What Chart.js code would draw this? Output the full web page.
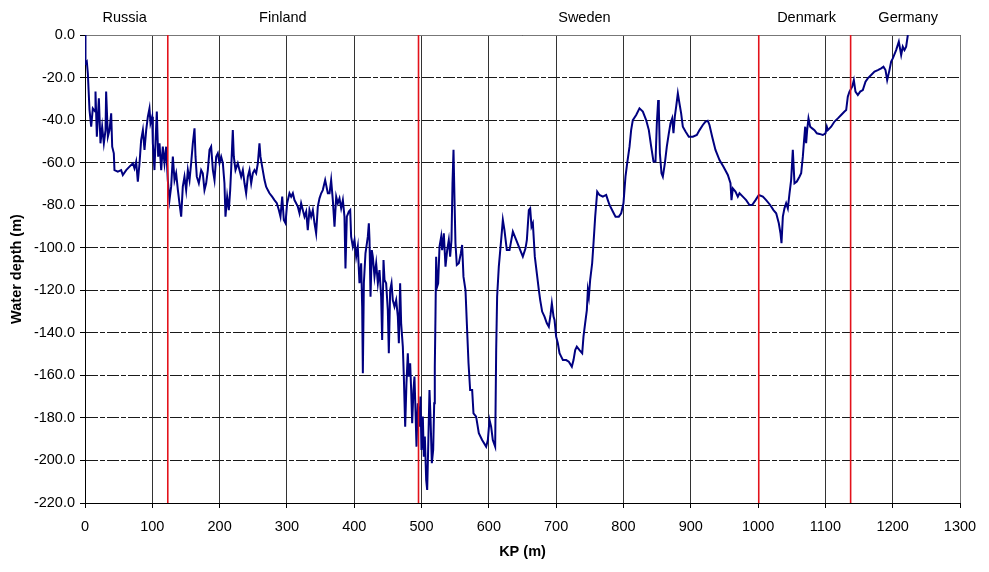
<!DOCTYPE html>
<html lang="en">
<head>
  <meta charset="UTF-8">
  <title>Water depth along the route</title>
  <script src="https://cdn.jsdelivr.net/npm/chart.js"></script>
  <style>
    body {
      margin: 0;
      background: #fff;
    }
    .wrap {
      width: 989px;
      height: 572px;
    }
  </style>
</head>
<body>
  <div class="wrap">
    <canvas id="depthChart"></canvas>
  </div>

  <script>
    // KP (m) and water depth (m)
    const kp = [
      0, 0.7, 2.7, 4.2, 6.7, 9.2, 11.6, 15.1, 15.6, 17.6,
      20.6, 23, 25.5, 28, 30.5, 31.4, 34, 36.4, 38.9, 40.4,
      42.8, 43.8, 48.8, 53.7, 56.2, 61.2, 66.1, 71.1, 73.5, 76,
      78.5, 81, 83.4, 86, 88.4, 90.9, 93.4, 95.8, 97.3, 99.8,
      100.8, 103.2, 104.7, 106.7, 108.7, 110.7, 113.2, 115.6, 118.1, 120.6,
      123, 125.5, 128, 130.5, 133, 135.4, 138, 140.4, 142.9, 145.3,
      147.8, 150.3, 152.8, 155.3, 157.7, 160.2, 162.7, 164.2, 166.1, 169.1,
      172.6, 175, 177.5, 180, 182.5, 185, 187.4, 190, 192.4, 194.9,
      197.3, 199.8, 202.3, 204.8, 207.2, 208.7, 211.2, 213.7, 215.7, 217.1,
      219.6, 221.1, 223.6, 227, 229.5, 232, 234.5, 237, 239.4, 241.9,
      244.4, 246.9, 249.3, 251.8, 254.3, 256.8, 259.2, 260.7, 263.2, 266.7,
      269.1, 271.6, 274.1, 278, 281.5, 285, 288, 290.4, 293, 295.4,
      297.9, 300.3, 303.8, 306.3, 308.8, 311.2, 313.7, 316.2, 318.7, 321.1,
      323.6, 326.1, 328.6, 331, 333.5, 336, 338.5, 341, 343.4, 345.9,
      348.4, 350.9, 353.3, 356.8, 360.8,
      363.3, 365.7, 368.2, 370.7, 373.2, 375.6, 378.1, 380.6, 383.1, 385.5,
      387, 389, 392, 394, 395.4, 397.9, 400.4, 402.9, 405.3, 407.8,
      410.3, 411.8, 412.8, 414.3, 416.7, 420.2, 421.7, 422.7, 424.2, 426.1,
      427.6, 430.1, 432.6, 435.1, 437.5, 440, 441.5, 443.5, 445, 447.4,
      449.9, 451.4, 453.4, 455.4, 457.3, 459.8, 462.3, 464.8, 466.3, 468.2,
      469.7, 472.2, 473.7, 475.7, 477.6, 479.6, 481.1, 483.1, 484.6, 486.1,
      488, 489.5, 491, 492.5, 494.5, 497, 498.4, 499.9, 501.9, 503.4,
      504.9, 506.9, 508.4, 509.8, 511.8, 513.3, 515.3, 517.3, 518.8, 519.7,
      520.7, 521.7, 523.2, 524.7, 526.7, 529.2, 530.6, 533.1, 535.6, 538.1,
      540.5, 542.5, 544.5, 546, 547.5, 549, 550.4, 552.4, 555.4, 558.4,
      560.3, 562.3, 565.3, 567.3, 569.8, 572.2, 575.2, 577.2, 581.1, 585.1,
      590, 596, 598.5, 601, 603.4, 605.9, 609.4, 610.9, 612.3, 614.8,
      618.3, 620.8, 623.2,
      626.7, 630.7, 635.7, 640.6, 645.6, 650.5, 654.5, 656.5, 659.4, 661.4,
      663.4, 665.4, 668.3, 671.3, 674.3, 676.3, 679.2, 682.7, 686.2, 689.1,
      691.6, 693.6, 696.1, 697.6, 700, 702.5, 705, 707.5, 710, 714.9,
      718.8, 723.3, 725.8, 728.3, 730.7, 734.7, 738.7, 740.6, 743.1, 745.6,
      747.1, 748.6, 750.5, 753.5, 755.5, 758, 761,
      764.4, 769.4, 774.3, 776.8, 779.3, 784.2, 788.2, 793.1, 796.6, 800,
      803, 805.5, 809, 811.4, 813.9, 818.9, 823.8, 828.8, 833.7, 837.7,
      841.2, 844.6, 847.6, 849.6, 851.6, 852.5, 854.1, 856.5, 858.5, 861.5,
      864.4, 867.4, 869.9, 872.4, 874.3, 876.3, 878.3, 880.8, 883.2, 885.7,
      888.2, 892.2, 897.1, 903.1, 909, 913, 917.9, 921.9, 925.3, 927.8,
      931.8, 936.7, 942.7, 948.6, 955.1, 959, 960.5, 962.5, 966.4, 969.9,
      972.4, 977.3, 982.3, 987.2, 991.2, 996.2, 1001.1, 1007.1, 1012, 1018,
      1022.9, 1026.9, 1030.8, 1033.3, 1034.8, 1036.8, 1039.2, 1041.7, 1044.2, 1046.7,
      1049.1, 1051.6,
      1054.1, 1057.6, 1061.5, 1064, 1066.5, 1068, 1070, 1071.4, 1072.9, 1074.9,
      1077.4, 1080.4, 1083.8, 1087.3, 1091.2, 1096.2, 1100.2, 1102.1, 1103.6, 1108.6,
      1113.5, 1118.5, 1123.4, 1128.4, 1130.9, 1133.3, 1135.8, 1139.8, 1142.3, 1144.7,
      1148.2, 1151.7, 1155.6, 1159.6, 1163, 1168, 1173, 1177.9, 1182.9, 1186.3,
      1189.3, 1191.8, 1195.2, 1197.7, 1200.2, 1205.1, 1209.1, 1212.6, 1215, 1217.5,
      1220, 1222.5
    ];

    const depth = [
      0, -13.3, -12.5, -18, -35.3, -43.1, -34.5, -36, -26.6, -47.8,
      -29.8, -50.9, -43.1, -50.9, -44.7, -26.6, -47.8, -44.7, -36.8, -52.5,
      -55.6, -63.5, -64.2, -63.5, -65.8, -63.5, -61.9, -60.3, -62.7, -59.5,
      -69, -60.3, -49.4, -44.7, -54, -44.7, -38.4, -34.5, -41.5, -38.4,
      -50.9, -63.5, -50.9, -36, -57.2, -50.9, -63.5, -52.5, -60.3, -52.5,
      -68.2, -77.6, -71.3, -57.2, -68.2, -65, -72.9, -79.1, -85.4, -71.3,
      -66.6, -72.9, -63.5, -68.2, -60.3, -50.9, -43.9, -57.2, -66.6, -69.7,
      -63.5, -65, -72.9, -69.7, -63.5, -54, -52.5, -63.5, -68.2, -57.2,
      -55.6, -60.3, -57.2, -60.3, -69.7, -85.4, -76, -82.3, -72.9, -63.5,
      -44.7, -57.2, -63.5, -60.3, -63.5, -66.6, -63.5, -69.7, -74.4, -66.6,
      -63.5, -69.7, -65, -63.5, -65, -60.3, -50.9, -57.2, -61.9, -68.2,
      -71.3, -72.9, -74.4, -76, -77.6, -79.1, -82.3, -85.4, -76, -87,
      -88.5, -79.1, -74.4, -76, -74.4, -77.6, -79.1, -80.7, -83.8, -79.1,
      -82.3, -85.4, -83, -91.7, -82.3, -85.4, -82.3, -88.5, -93.2, -80.7,
      -76.8, -74.4, -72.9, -68.2, -74.4,
      -74.4, -68.2, -77.6, -90.1, -76, -79.1, -76.8, -81.5, -77.6, -85.4,
      -109.7, -85.4, -83, -82.3, -94.8, -99.5, -96.3, -104.2, -99.5, -116.7,
      -107.3, -127.7, -159, -116.7, -102.6, -94.8, -88.5, -96.3, -123, -101.1,
      -104.2, -113.6, -107.3, -116.7, -110.5, -123, -143.4, -105.8, -115.2, -116.7,
      -129.3, -149.6, -119.9, -116.7, -124.6, -127.7, -124.6, -132.4, -144.9, -116.7,
      -135.5, -146.5, -160.6, -184.1, -163.7, -149.6, -160.6, -154.3, -166.9, -182.5,
      -166.9, -160.6, -176.3, -193.5, -173.1, -184.1, -170, -195.1, -179.4, -198.2,
      -188.8, -209.2, -213.9, -195.1, -166.9, -179.4, -201.3, -195.1, -173.1, -155.9,
      -132.4, -104.2, -118.3, -116.7, -99.5, -94.8, -101.1, -93.2, -108.9, -101.1,
      -96.3, -104.2, -96.3, -69.7, -54, -77.6, -97.9, -108.1, -107.3, -102.6,
      -98.7, -113.6, -119.9, -135.5, -154.3, -166.9, -166.9, -177.9, -179.4, -187.2,
      -190.4, -193.5, -190.4, -181, -184.1, -190.4, -193.5, -148.1, -123, -108.9,
      -96.3, -86.9, -91.7,
      -101.1, -101.1, -92.4, -96.3, -100.3, -104.2, -100.3, -96.3, -82.3, -81.5,
      -90.1, -88.5, -104.2, -112, -119.9, -124.6, -130, -132.4, -135.5, -137.1,
      -131.6, -126.1, -132.4, -134, -141.8, -144.9, -149.6, -151.2, -152.8, -152.8,
      -153.6, -155.9, -152.8, -148.1, -146.5, -148.1, -149.6, -141.8, -135.5, -129.3,
      -119.9, -123, -115.2, -107.3, -97.9, -85.4, -73.6,
      -75.2, -76, -75.2, -77.6, -79.9, -83, -85.4, -85.4, -83.8, -79.1,
      -66.6, -60.3, -52.5, -44.7, -40, -37.6, -34.5, -36, -40, -44.7,
      -52.5, -59.5, -59.5, -41.5, -30.6, -33.7, -55.6, -65, -66.6, -60.3,
      -52.5, -46.2, -41.5, -39.2, -46.2, -38.4, -33.7, -27.4, -32.1, -36.8,
      -43.1, -45.4, -47.8, -47.8, -47, -44.7, -42.3, -40.7, -40.3, -42.3,
      -47.8, -54, -58.8, -61.9, -65.8, -69.7, -77.6, -72.1, -73.6, -76,
      -74.4, -76, -77.6, -79.9, -79.9, -77.6, -75.2, -76, -77.6, -79.9,
      -82.3, -83.8, -88.5, -93.2, -97.9, -85.4, -81.5, -79.1, -81.5, -74.4,
      -68.2, -54,
      -69.7, -68.9, -66.6, -65, -57.2, -50.9, -43.1, -50.9, -44.7, -39.2,
      -43.1, -43.9, -44.7, -46.2, -46.5, -47, -46.2, -43.1, -44.7, -43.1,
      -40.7, -39.2, -37.6, -36, -35.3, -29, -26.6, -24.3, -21.2, -26.6,
      -28.2, -26.6, -25.9, -22, -20.4, -18.8, -17.2, -16.5, -15.7, -14.9,
      -16.5, -21.2, -16.5, -12.5, -11, -7.1, -3.1, -9.4, -5.5, -7.1,
      -5.5, 0
    ];

    // country names over the plot, and the red border lines
    const countries = ['Russia', 'Finland', 'Sweden', 'Denmark', 'Germany'];
    const countryKp = [59, 294, 742, 1072, 1223];
    const borderKp = [123, 495.5, 1001, 1137.5];
    const depthMin = -220;
    const depthMax = 0;

    Chart.defaults.font.family = '"Liberation Sans", Arial, sans-serif';
    Chart.defaults.font.size = 14.5;
    Chart.defaults.color = '#000';

    const profile = kp.map((k, i) => ({ x: k, y: depth[i] }));

    const borderSets = borderKp.map(k => ({
      data: [{ x: k, y: depthMin }, { x: k, y: depthMax }],
      borderColor: '#e3121b',
      borderWidth: 1.6,
      pointRadius: 0,
      order: 0
    }));

    // country names above the chart area
    const countryLabels = {
      id: 'countryLabels',
      afterDraw(chart) {
        const ctx = chart.ctx;
        const xs = chart.scales.x;
        ctx.save();
        ctx.font = '14.5px "Liberation Sans", Arial, sans-serif';
        ctx.fillStyle = '#000';
        ctx.textAlign = 'center';
        ctx.textBaseline = 'middle';
        countries.forEach((name, i) => {
          ctx.fillText(name, xs.getPixelForValue(countryKp[i]), 18);
        });
        ctx.restore();
      }
    };

    // grey frame on top and right of the plot
    const frame = {
      id: 'frame',
      beforeDatasetsDraw(chart) {
        const { ctx, chartArea: a } = chart;
        ctx.save();
        ctx.strokeStyle = '#777';
        ctx.lineWidth = 1;
        ctx.beginPath();
        ctx.moveTo(a.left, a.top + 0.5);
        ctx.lineTo(a.right + 0.5, a.top + 0.5);
        ctx.lineTo(a.right + 0.5, a.bottom);
        ctx.stroke();
        ctx.restore();
      }
    };

    new Chart(document.getElementById('depthChart'), {
      type: 'line',
      data: {
        datasets: [
          ...borderSets,
          {
            data: profile,
            borderColor: '#000080',
            borderWidth: 2,
            pointRadius: 0,
            tension: 0,
            order: 1
          }
        ]
      },
      options: {
        responsive: true,
        maintainAspectRatio: false,
        animation: false,
        layout: { padding: { top: 35, right: 29, bottom: 0, left: 0 } },
        plugins: {
          legend: { display: false },
          tooltip: { enabled: false }
        },
        scales: {
          x: {
            type: 'linear',
            min: 0,
            max: 1300,
            ticks: {
              stepSize: 100,
              maxRotation: 0,
              autoSkip: false,
              padding: 10,
              callback: v => String(v)
            },
            grid: { color: '#333', tickLength: 5, tickColor: '#000' },
            border: { color: '#000' },
            title: {
              display: true,
              text: 'KP (m)',
              font: { size: 14.5, weight: 'bold' },
              padding: { top: 0, bottom: 11 }
            },
            afterFit: s => { s.height = 69; }
          },
          y: {
            type: 'linear',
            min: depthMin,
            max: depthMax,
            ticks: { stepSize: 20, padding: 5, callback: v => v.toFixed(1) },
            grid: { color: '#1a1a1a', tickLength: 5, tickColor: '#000' },
            border: { color: '#000', dash: [12, 2, 5, 2] },
            title: {
              display: true,
              text: 'Water depth (m)',
              font: { size: 14.5, weight: 'bold' },
              padding: { top: 8, bottom: 0 }
            },
            afterFit: s => { s.width = 85; }
          }
        }
      },
      plugins: [frame, countryLabels]
    });
  </script>
</body>
</html>
